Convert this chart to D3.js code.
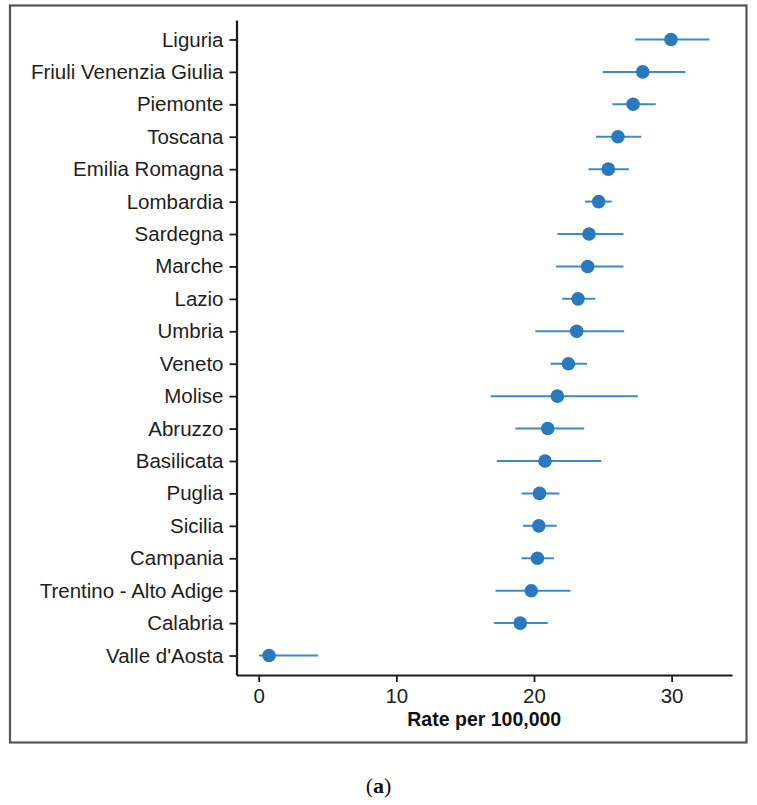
<!DOCTYPE html>
<html>
<head>
<meta charset="utf-8">
<script src="https://cdn.jsdelivr.net/npm/d3@7"></script>
<style>
  html, body { margin: 0; padding: 0; background: #fff; }
  svg { display: block; }
</style>
</head>
<body>
<svg id="chart" width="757" height="805"></svg>
<script>
const regions = ["Liguria", "Friuli Venenzia Giulia", "Piemonte", "Toscana", "Emilia Romagna",
  "Lombardia", "Sardegna", "Marche", "Lazio", "Umbria", "Veneto", "Molise", "Abruzzo",
  "Basilicata", "Puglia", "Sicilia", "Campania", "Trentino - Alto Adige", "Calabria", "Valle d'Aosta"];
const rates = [29.95, 27.9, 27.2, 26.1, 25.4, 24.7, 24.0, 23.9, 23.2, 23.1, 22.5, 21.7, 21.0,
  20.8, 20.4, 20.35, 20.25, 19.8, 19.0, 0.75];
const lower = [27.35, 25.0, 25.7, 24.5, 23.95, 23.7, 21.7, 21.6, 22.05, 20.1, 21.2, 16.85, 18.65,
  17.3, 19.1, 19.2, 19.1, 17.2, 17.1, 0.02];
const upper = [32.75, 31.0, 28.85, 27.8, 26.9, 25.65, 26.5, 26.5, 24.45, 26.55, 23.85, 27.55, 23.65,
  24.9, 21.85, 21.65, 21.45, 22.65, 21.0, 4.3];
const xTicks = [0, 10, 20, 30];
const xTitle = "Rate per 100,000";
const caption = "(a)";

(function () {
const svg = d3.select("#chart");
const font = "'Liberation Sans', Arial, Helvetica, sans-serif";

// outer frame
svg.append("rect")
  .attr("x", 10).attr("y", 5.5).attr("width", 736.5).attr("height", 737)
  .attr("fill", "none").attr("stroke", "#555").attr("stroke-width", 2.2);

const pLeft = 236.5, pRight = 732, pTop = 20, pBottom = 675;

const dmin = d3.min(lower), dmax = d3.max(upper);
const pad = (dmax - dmin) * 0.05;
const x = d3.scaleLinear().domain([dmin - pad, dmax + pad]).range([pLeft, pRight]);
const y = d3.scalePoint().domain(regions).range([pTop, pBottom]).padding(0.6);

// error bars
svg.append("g").selectAll("line").data(regions).join("line")
  .attr("x1", (d, i) => x(lower[i])).attr("x2", (d, i) => x(upper[i]))
  .attr("y1", d => y(d)).attr("y2", d => y(d))
  .attr("stroke", "#3b8ace").attr("stroke-width", 2);

// points
svg.append("g").selectAll("circle").data(regions).join("circle")
  .attr("cx", (d, i) => x(rates[i])).attr("cy", d => y(d))
  .attr("r", 6.8).attr("fill", "#2979be");

// axes
const yAxis = svg.append("g").attr("transform", `translate(${pLeft},0)`)
  .call(d3.axisLeft(y).tickSize(7).tickPadding(6).tickSizeOuter(0));
const xAxis = svg.append("g").attr("transform", `translate(0,${pBottom})`)
  .call(d3.axisBottom(x).tickValues(xTicks).tickFormat(d3.format("d")).tickSize(7).tickPadding(6.5).tickSizeOuter(0));

[yAxis, xAxis].forEach(g => {
  g.select(".domain").attr("stroke", "#1a1a1a").attr("stroke-width", 2.2);
  g.selectAll(".tick line").attr("stroke", "#1a1a1a").attr("stroke-width", 1.8);
  g.selectAll(".tick text").attr("fill", "#1e1e1e").attr("font-family", font).attr("font-size", 20.5);
});

// axis title
svg.append("text")
  .attr("x", (pLeft + pRight) / 2).attr("y", 725.5)
  .attr("text-anchor", "middle")
  .attr("font-family", font).attr("font-size", 19.5).attr("font-weight", "bold")
  .attr("fill", "#111")
  .text(xTitle);

// caption
svg.append("text")
  .attr("x", 378.5).attr("y", 793)
  .attr("text-anchor", "middle")
  .attr("font-family", "'Liberation Serif', 'DejaVu Serif', serif")
  .attr("font-size", 22).attr("fill", "#111")
  .selectAll("tspan")
  .data(caption.split("")).join("tspan")
  .attr("font-weight", d => d === "a" ? "bold" : "normal")
  .text(d => d);
})();
</script>
</body>
</html>
